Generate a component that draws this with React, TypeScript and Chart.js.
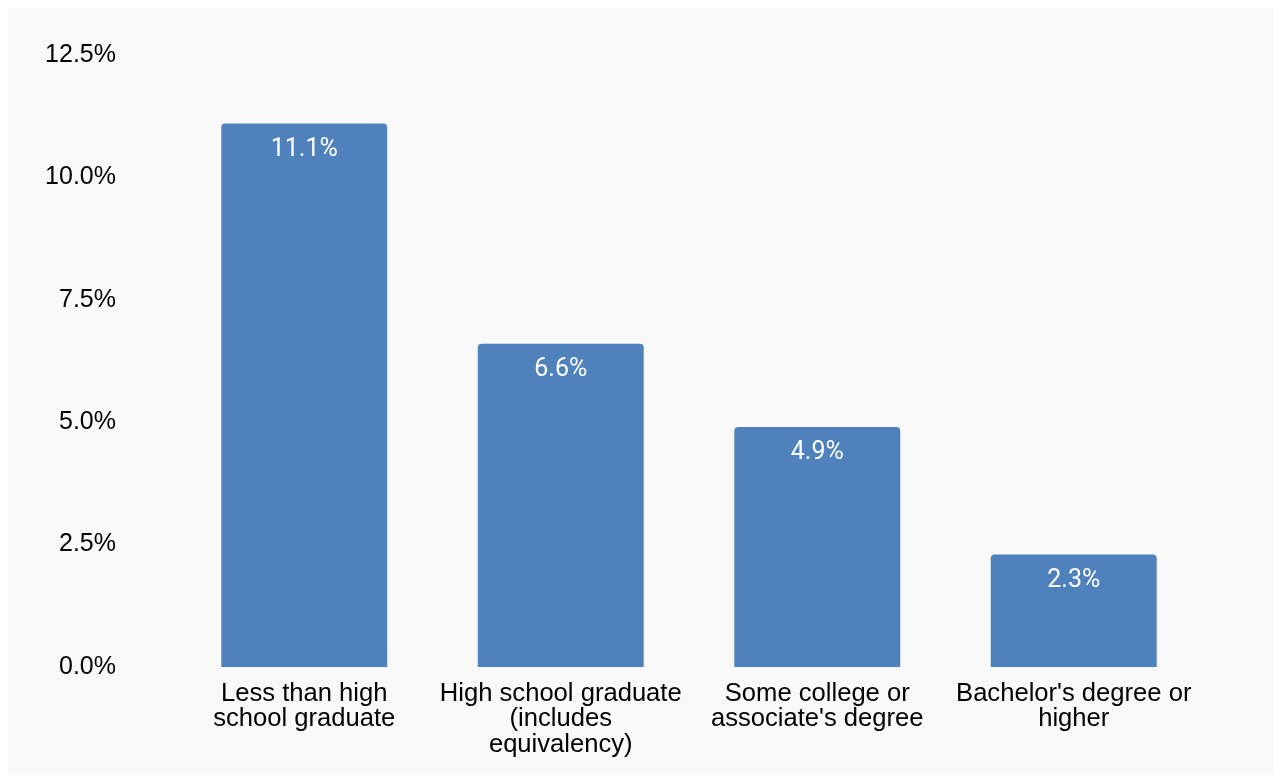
import React, { useEffect, useRef } from "react";
import { Chart, registerables } from "chart.js";

Chart.register(...registerables);

const categories: string[][] = [
  ["Less than high", "school graduate"],
  ["High school graduate", "(includes", "equivalency)"],
  ["Some college or", "associate's degree"],
  ["Bachelor's degree or", "higher"],
];
const values: number[] = [11.1, 6.6, 4.9, 2.3];
const yTicks: number[] = [0, 2.5, 5, 7.5, 10, 12.5];

const BAR_COLOR = "#4f81bd";
const BG = "#f9f9f9";

const barLabelPlugin = {
  id: "barLabels",
  afterDatasetsDraw(chart: any) {
    const ctx = chart.ctx;
    const meta = chart.getDatasetMeta(0);
    ctx.save();
    ctx.fillStyle = "#ffffff";
    ctx.font = "25px Roboto";
    ctx.textAlign = "center";
    ctx.textBaseline = "middle";
    meta.data.forEach((el: any, i: number) => {
      ctx.fillText(values[i].toFixed(1) + "%", el.x, el.y + 26);
    });
    ctx.restore();
  },
};

export default function App() {
  const ref = useRef<HTMLCanvasElement | null>(null);
  useEffect(() => {
    if (!ref.current) return;
    const chart = new Chart(ref.current, {
      type: "bar",
      data: {
        labels: categories,
        datasets: [
          {
            data: values,
            backgroundColor: BAR_COLOR,
            borderRadius: { topLeft: 4, topRight: 4, bottomLeft: 0, bottomRight: 0 },
            borderSkipped: "bottom",
            categoryPercentage: 0.647,
            barPercentage: 1,
          },
        ],
      },
      options: {
        animation: false,
        responsive: false,
        maintainAspectRatio: false,
        layout: { padding: { left: 0, right: 71, top: 47, bottom: 0 } },
        plugins: { legend: { display: false }, tooltip: { enabled: false } },
        scales: {
          x: {
            grid: { display: false, drawTicks: false },
            border: { display: false },
            afterFit(axis: any) {
              axis.height = 107;
              axis.paddingLeft = 0;
              axis.paddingRight = 0;
              axis.paddingTop = 0;
              axis.paddingBottom = 0;
            },
            ticks: {
              color: "#000000",
              font: { family: "Liberation Sans, Arial", size: 25.6, lineHeight: 1.0 },
              padding: 14,
              maxRotation: 0,
              autoSkip: false,
            },
          },
          y: {
            min: 0,
            max: 12.5,
            afterBuildTicks(axis: any) {
              axis.ticks = yTicks.map((v) => ({ value: v }));
            },
            afterFit(axis: any) {
              axis.width = 168;
              axis.paddingTop = 0;
              axis.paddingBottom = 0;
              axis.paddingLeft = 0;
              axis.paddingRight = 0;
            },
            grid: { display: false, drawTicks: false },
            border: { display: false },
            ticks: {
              color: "#000000",
              font: { family: "Liberation Sans, Arial", size: 25 },
              padding: 60,
              callback: (v: any) => Number(v).toFixed(1) + "%",
            },
          },
        },
      },
      plugins: [barLabelPlugin],
    });
    return () => chart.destroy();
  }, []);
  return (
    <div style={{ width: 1265, height: 766, background: BG }}>
      <canvas ref={ref} width={1265} height={766} style={{ display: "block" }} />
    </div>
  );
}
